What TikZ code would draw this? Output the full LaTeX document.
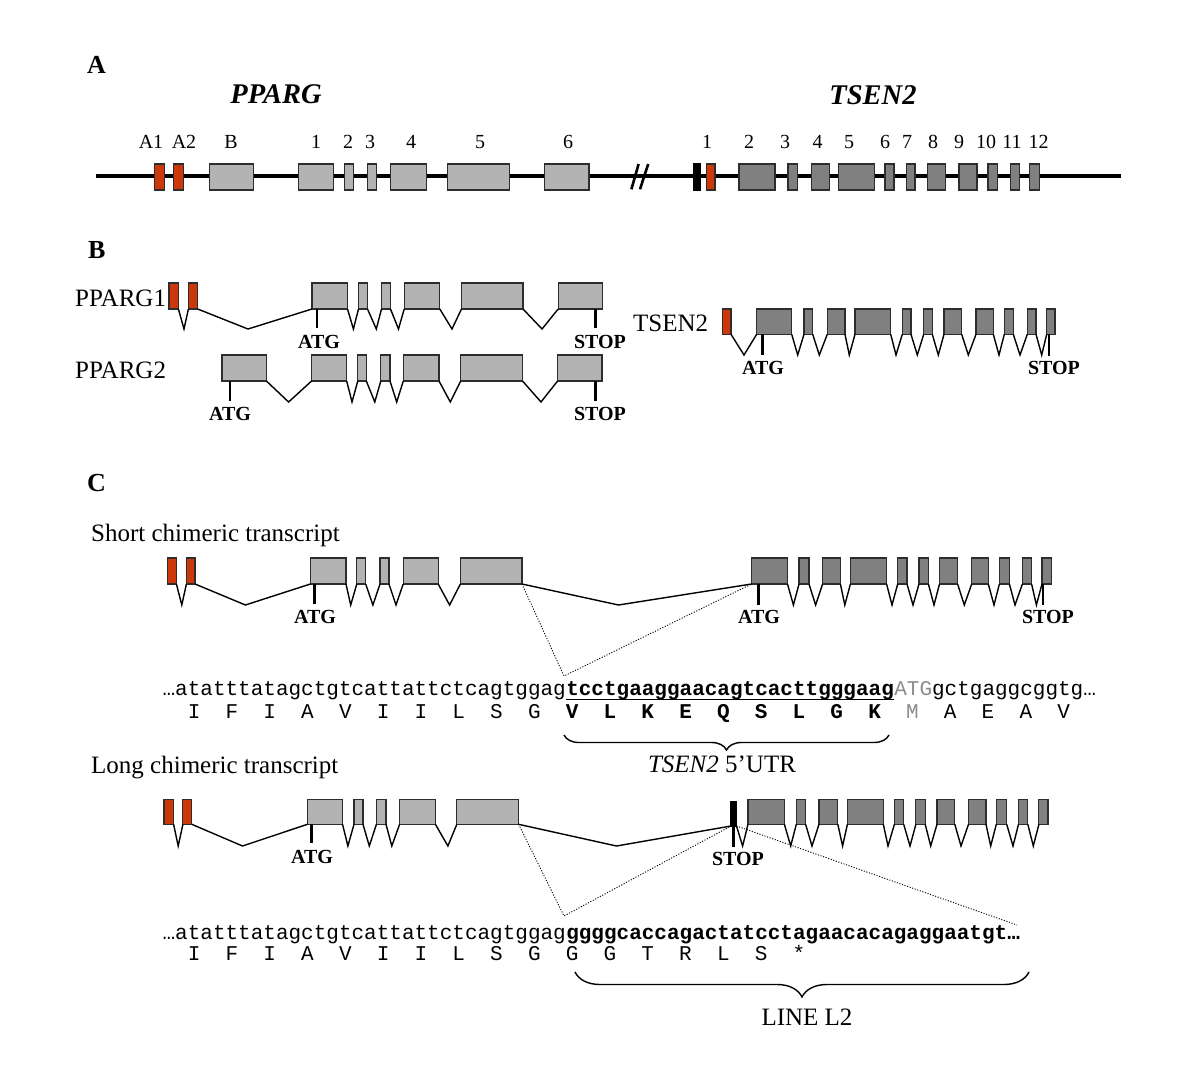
\documentclass[tikz,border=0pt]{standalone}
\usepackage{fontspec}
\setmainfont{Liberation Serif}
\newfontfamily\seqfont{Liberation Mono}
\usetikzlibrary{decorations.pathreplacing}
\definecolor{exred}{RGB}{204,56,10}
\definecolor{exlight}{RGB}{179,179,179}
\definecolor{exdark}{RGB}{128,128,128}
\definecolor{exedge}{RGB}{45,45,45}
\definecolor{utrgray}{RGB}{140,140,140}
\newcommand{\mkexons}[4]{\foreach \nm/\xa/\xb/\cc in {#4}{\node[exon,fill=\cc,minimum width={(\xb-\xa)*1pt},minimum height={(#3-#2)*1pt},anchor=north west] (#1\nm) at (\xa,#2) {};}}
\newcommand{\mkintrons}[3]{\foreach \pp/\qq/\lx in {#3}{\draw[intron] (#1\pp.south east) -- (\lx,#2) -- (#1\qq.south west);}}
\begin{document}
\begin{tikzpicture}[x=1pt,y=-1pt,
  exon/.style={draw=exedge, line width=1.1pt, inner sep=0pt, outer sep=0pt, rectangle},
  intron/.style={line width=1.4pt, black},
  tickmark/.style={line width=2.8pt, black},
  gene/.style={line width=4.5pt, black},
  dotline/.style={line width=0.9pt, dash pattern=on 1.1pt off 1.6pt},
  bracestyle/.style={line width=1.4pt, decorate, decoration={brace, amplitude=#1}},
  panel/.style={font=\bfseries\fontsize{26}{30}\selectfont, inner sep=0pt, anchor=base west},
  title/.style={font=\bfseries\itshape\fontsize{28.5}{33}\selectfont, inner sep=0pt, anchor=base},
  num/.style={font=\fontsize{20}{24}\selectfont, inner sep=0pt, anchor=base},
  cod/.style={font=\bfseries\fontsize{20}{24}\selectfont, inner sep=0pt, anchor=base},
  tname/.style={font=\fontsize{25}{30}\selectfont, inner sep=0pt, anchor=base west},
  seq/.style={font=\seqfont\fontsize{21}{25}\selectfont, inner sep=0pt, anchor=base west},
  blbl/.style={font=\fontsize{25}{30}\selectfont, inner sep=0pt, anchor=base}
]
\fill[white] (0,0) rectangle (1200,1073);
\useasboundingbox (0,0) rectangle (1200,1073);

% ---------------- Panel A
\node[panel] (lblA) at (87,74) {A};
\node[title] (tPPARG) at (276,103.3) {PPARG};
\node[title] (tTSEN2) at (873,104) {TSEN2};
\coordinate (gL) at (96,176);
\coordinate (gR) at (1120.7,176);
\draw[gene] (gL) -- (gR);
\draw[line width=2.6pt] (631.4,189.3) -- (638.6,164) (640,189.3) -- (648.2,164);
\mkexons{a}{164}{190}{A1/154.6/164.3/exred, A2/173.6/183.2/exred, B/209.3/253.9/exlight, e1/298.2/333.6/exlight, e2/344.3/353.6/exlight, e3/367.5/376.8/exlight, e4/390.7/426.4/exlight, e5/447.9/509.3/exlight, e6/544.3/589/exlight, t1/706.4/715/exred, t2/739/775/exdark, t3/788/797.5/exdark, t4/811.4/829.3/exdark, t5/838.6/874.3/exdark, t6/885/894/exdark, t7/906.4/915/exdark, t8/927.5/945.4/exdark, t9/959/977/exdark, t10/988/997.5/exdark, t11/1010.7/1019.6/exdark, t12/1029.6/1039.3/exdark}
\node[exon,fill=black,draw=black,minimum width=6.4pt,minimum height=26pt,anchor=north west] (abar) at (693.6,164) {};
\foreach \tx/\xx in {A1/151, A2/184, B/231, 1/316, 2/348, 3/370, 4/411, 5/480, 6/568}
  \node[num] (pl\tx) at (\xx,148.3) {\tx};
\foreach \tx/\xx in {1/707, 2/749, 3/785, 4/817.5, 5/849, 6/885, 7/907, 8/933, 9/959, 10/986, 11/1012, 12/1038.5}
  \node[num] (tl\tx) at (\xx,148.3) {\tx};

% ---------------- Panel B
\node[panel] (lblB) at (88,258) {B};
\node[tname] (nP1) at (75,306.7) {PPARG1};
\node[tname] (nP2) at (75,378) {PPARG2};
\node[tname] (nT2) at (633,331.7) {TSEN2};

\mkexons{bo}{283}{309}{r1/169/178.4/exred, r2/188.4/197.6/exred, e1/312/347.5/exlight, e2/358.5/367.5/exlight, e3/381.5/390.5/exlight, e4/404.2/439.8/exlight, e5/461.5/523/exlight, e6/558.2/602.5/exlight}
\mkintrons{bo}{329}{r1/r2/184, r2/e1/248, e1/e2/353.4, e2/e3/376.3, e3/e4/398.5, e4/e5/452, e5/e6/542}
\draw[tickmark] (317,309) -- (317,328);
\node[cod] (atgB1) at (319,348) {ATG};
\draw[tickmark] (595.7,309) -- (595.7,328);
\node[cod] (stopB1) at (600,348) {STOP};

\mkexons{bt}{355}{381}{eB/222/266.4/exlight, e1/311.6/346.7/exlight, e2/357.8/366.3/exlight, e3/380.8/390/exlight, e4/403.3/439/exlight, e5/460.7/522.5/exlight, e6/557.6/602/exlight}
\mkintrons{bt}{402}{eB/e1/288.6, e1/e2/352, e2/e3/374.8, e3/e4/396.7, e4/e5/450.3, e5/e6/541}
\draw[tickmark] (230,381) -- (230,401);
\node[cod] (atgB2) at (230,420) {ATG};
\draw[tickmark] (595.7,381) -- (595.7,401);
\node[cod] (stopB2) at (600,420) {STOP};

\mkexons{bs}{309}{334.3}{t1/722.3/731/exred, t2/756.7/791.7/exdark, t3/804/812.7/exdark, t4/827.3/845/exdark, t5/855/890.7/exdark, t6/902.3/911/exdark, t7/923.7/932.3/exdark, t8/944/961.7/exdark, t9/976/993.3/exdark, t10/1004.3/1013.3/exdark, t11/1027.3/1036/exdark, t12/1046.7/1055/exdark}
\mkintrons{bs}{355}{t1/t2/744, t2/t3/797.7, t3/t4/819.3, t4/t5/849.3, t5/t6/896, t6/t7/917.3, t7/t8/938.3, t8/t9/968.3, t9/t10/999, t10/t11/1020, t11/t12/1041.7}
\draw[tickmark] (762.7,334.3) -- (762.7,355);
\node[cod] (atgB3) at (763,374) {ATG};
\draw[tickmark] (1049,334.3) -- (1049,356);
\node[cod] (stopB3) at (1054,374) {STOP};

% ---------------- Panel C
\node[panel] (lblC) at (87,491.7) {C};
\node[tname] (nShort) at (91,541) {Short chimeric transcript};

\mkexons{cs}{558}{584}{r1/167.5/176.4/exred, r2/186.4/195/exred, e1/310.4/346/exlight, e2/356.8/365.7/exlight, e3/380/389/exlight, e4/403.2/438.2/exlight, e5/460.4/522/exlight, t2/751.6/787.5/exdark, t3/799/809/exdark, t4/822.6/840.4/exdark, t5/850.4/886.6/exdark, t6/897.7/907/exdark, t7/919/928.4/exdark, t8/939.5/957.6/exdark, t9/971.7/988.3/exdark, t10/999.4/1009.4/exdark, t11/1022.4/1031.6/exdark, t12/1042/1051.2/exdark}
\mkintrons{cs}{605}{r1/r2/181.8, r2/e1/245.4, e1/e2/350.7, e2/e3/372.9, e3/e4/396, e4/e5/449.6, e5/t2/618.5, t2/t3/793.4, t3/t4/815.6, t4/t5/844.8, t5/t6/892, t6/t7/913, t7/t8/934, t8/t9/964.3, t9/t10/994, t10/t11/1015, t11/t12/1036.4}
\draw[tickmark] (314.6,584) -- (314.6,604);
\node[cod] (atgC1) at (315,623) {ATG};
\draw[tickmark] (758.2,584) -- (758.2,605);
\node[cod] (atgC2) at (759,623) {ATG};
\draw[tickmark] (1043,584) -- (1043,605);
\node[cod] (stopC1) at (1048,623) {STOP};

\coordinate (jS) at (564,676);
\draw[dotline] (cse5.south east) -- (jS) -- (cst2.south west);

\node[seq] (s1a) at (162.4,695) {…atatttatagctgtcattattctcagtggag};
\node[seq, anchor=base west] (s1b) at (s1a.base east) {\bfseries tcctgaaggaacagtcacttgggaag};
\node[seq, anchor=base west] (s1c) at (s1b.base east) {{\color{utrgray}ATG}gctgaggcggtg…};
\draw[line width=1.6pt] ([yshift=-4.5pt]s1b.base west) -- ([yshift=-4.5pt]s1b.base east);
\node[seq] (aa1) at (175,718.5) {~I~~F~~I~~A~~V~~I~~I~~L~~S~~G~~\bfseries V~~L~~K~~E~~Q~~S~~L~~G~~K\mdseries~~{\color{utrgray}M}~~A~~E~~A~~V};

\draw[bracestyle=15pt] (889,735) -- (564,735);
\node[blbl] (utr) at (722,772) {\itshape TSEN2\upshape{} 5’UTR};

\node[tname] (nLong) at (91,773) {Long chimeric transcript};

\mkexons{cl}{799.3}{824.3}{r1/164/173.6/exred, r2/182.9/191.8/exred, e1/307.5/342.5/exlight, e2/354/363/exlight, e3/376.4/386/exlight, e4/399.6/435.4/exlight, e5/456.8/518.6/exlight, t2/748/784.4/exdark, t3/796.3/805.6/exdark, t4/819/837.8/exdark, t5/847.4/883.3/exdark, t6/894.4/903.7/exdark, t7/915.9/925.2/exdark, t8/937/954.8/exdark, t9/968.5/986/exdark, t10/996.3/1006.7/exdark, t11/1018.5/1027.8/exdark, t12/1038.9/1048/exdark}
\node[exon,fill=black,draw=black,minimum width=5.5pt,minimum height=24.5pt,anchor=north west] (clbar) at (731,801.5) {};
\mkintrons{cl}{846}{r1/r2/178.2, r2/e1/242.5, e1/e2/347.9, e2/e3/369.3, e3/e4/391.8, e4/e5/447.9, e5/bar/616.5, bar/t2/742.6, t2/t3/790.7, t3/t4/812, t4/t5/842.6, t5/t6/888, t6/t7/910, t7/t8/930.7, t8/t9/961, t9/t10/990.7, t10/t11/1013, t11/t12/1033.3}
\draw[tickmark] (311.4,824.3) -- (311.4,843);
\node[cod] (atgC3) at (312,863) {ATG};
\draw[tickmark] (733.8,826) -- (733.8,846.7);
\node[cod] (stopC2) at (738,865) {STOP};

\coordinate (jL) at (564,916);
\coordinate (lEnd) at (1017,925);
\draw[dotline] (cle5.south east) -- (jL) -- (clbar.south west);
\draw[dotline] (clbar.south east) -- (lEnd);

\node[seq] (s2a) at (162.4,939) {…atatttatagctgtcattattctcagtggag};
\node[seq, anchor=base west] (s2b) at (s2a.base east) {\bfseries ggggcaccagactatcctagaacacagaggaatgt…};
\node[seq] (aa2) at (175,960) {~I~~F~~I~~A~~V~~I~~I~~L~~S~~G~~G~~G~~T~~R~~L~~S~~*};

\draw[bracestyle=25pt] (1029,972) -- (575,972);
\node[blbl] (line2) at (807,1025) {LINE L2};
\end{tikzpicture}
\end{document}
